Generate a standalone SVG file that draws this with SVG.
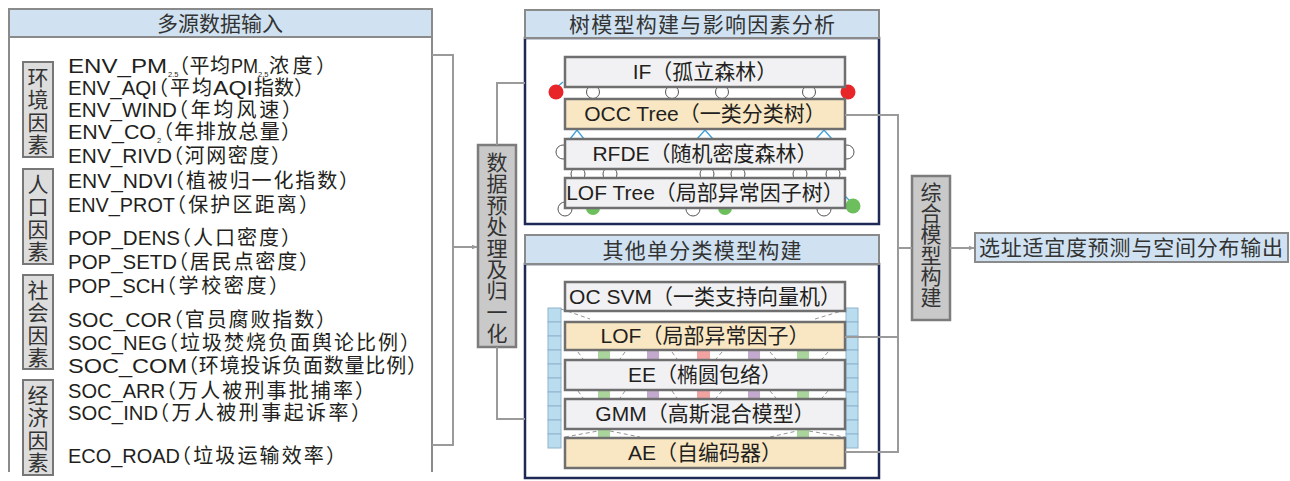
<svg xmlns="http://www.w3.org/2000/svg" width="1290" height="481" viewBox="0 0 1290 481">
<defs>
<style>
.hdr{fill:#d0e2f1;stroke:#8a8a8a;stroke-width:2}
.pan{fill:#fff;stroke:#1e2a55;stroke-width:2.5}
.box{fill:none;stroke:#8a8a8a;stroke-width:2}
.nd{fill:#f1f1f3;stroke:#6f6f6f;stroke-width:2.5}
.nb{fill:#f9e7c3;stroke:#6f6f6f;stroke-width:2.5}
.gb{fill:#c9c9c9;stroke:#7c7c7c;stroke-width:2.5}
.cat{fill:#dddddd;stroke:#777;stroke-width:2}
.t{font-family:"Liberation Sans","Noto Sans CJK SC",sans-serif;fill:#231f20;font-size:20px}
.c{font-family:"Noto Sans CJK SC",sans-serif;font-feature-settings:"halt"}
.h{font-family:"Noto Sans CJK SC",sans-serif;fill:#333;font-size:21px;text-anchor:middle}
.v{font-family:"Noto Sans CJK SC",sans-serif;fill:#333;font-size:21px;writing-mode:vertical-rl}
.n{font-family:"Liberation Sans","Noto Sans CJK SC",sans-serif;fill:#231f20;font-size:21px;text-anchor:middle}
.sub{font-family:"Liberation Sans",sans-serif;font-size:7.5px}
.conn{fill:none;stroke:#9a9a9a;stroke-width:2}
.wc{fill:#fff;stroke:#555;stroke-width:1}
.bl{fill:none;stroke:#3aa0dc;stroke-width:1.3}
.cell{fill:#b9dcef;stroke:#8fb4cc;stroke-width:1}
.dl{fill:none;stroke:#777;stroke-width:0.8;stroke-dasharray:4 3}
</style>
<marker id="arr" viewBox="0 0 10 10" refX="9" refY="5" markerWidth="6" markerHeight="6" orient="auto" markerUnits="userSpaceOnUse">
<path d="M0,1 L10,5 L0,9 z" fill="#9a9a9a"/>
</marker>
</defs>
<rect width="1290" height="481" fill="#fff"/>

<g id="input">
<path class="box" d="M9,472 V37 H432 V472"/>
<rect class="hdr" x="9" y="9" width="423" height="28"/>
<text class="h" x="220" y="31">多源数据输入</text>
<g id="cat-env"><rect class="cat" x="23" y="62" width="30" height="95"/>
<text class="v" x="38" y="66.5" letter-spacing="1.5">环境因素</text></g>
<g id="cat-pop"><rect class="cat" x="23" y="169" width="30" height="95"/>
<text class="v" x="38" y="173.5" letter-spacing="1.5">人口因素</text></g>
<g id="cat-soc"><rect class="cat" x="23" y="275" width="30" height="94"/>
<text class="v" x="38" y="279.5" letter-spacing="1.5">社会因素</text></g>
<g id="cat-eco"><rect class="cat" x="23" y="380" width="30" height="95"/>
<text class="v" x="38" y="384.5" letter-spacing="1.5">经济因素</text></g>

<text class="t" y="73"><tspan x="68" textLength="99" lengthAdjust="spacingAndGlyphs">ENV_PM</tspan><tspan class="sub" x="168" y="77">2.5</tspan><tspan class="c" x="179" y="73" textLength="51" lengthAdjust="spacing">（平均</tspan><tspan x="231" textLength="27" lengthAdjust="spacingAndGlyphs">PM</tspan><tspan class="sub" x="258" y="77">2.5</tspan><tspan class="c" x="269" y="73" textLength="57" lengthAdjust="spacing">浓度）</tspan></text>

<text class="t" y="95"><tspan x="68" textLength="89" lengthAdjust="spacingAndGlyphs">ENV_AQI</tspan><tspan class="c" x="158" textLength="54" lengthAdjust="spacing">（平均</tspan><tspan x="213" textLength="40" lengthAdjust="spacingAndGlyphs">AQI</tspan><tspan class="c" x="254" textLength="50" lengthAdjust="spacing">指数）</tspan></text>

<text class="t" y="117"><tspan x="68" textLength="109" lengthAdjust="spacingAndGlyphs">ENV_WIND</tspan><tspan class="c" x="178" textLength="114" lengthAdjust="spacing">（年均风速）</tspan></text>

<text class="t" y="139"><tspan x="68" textLength="88" lengthAdjust="spacingAndGlyphs">ENV_CO</tspan><tspan class="sub" x="157" y="143" font-size="9">2</tspan><tspan class="c" x="163" y="139" textLength="128" lengthAdjust="spacing">（年排放总量）</tspan></text>

<text class="t" y="163"><tspan x="68" textLength="104" lengthAdjust="spacingAndGlyphs">ENV_RIVD</tspan><tspan class="c" x="173" textLength="108" lengthAdjust="spacing">（河网密度）</tspan></text>

<text class="t" y="188"><tspan x="68" textLength="105" lengthAdjust="spacingAndGlyphs">ENV_NDVI</tspan><tspan class="c" x="174" textLength="175" lengthAdjust="spacing">（植被归一化指数）</tspan></text>

<text class="t" y="212"><tspan x="68" textLength="107" lengthAdjust="spacingAndGlyphs">ENV_PROT</tspan><tspan class="c" x="176" textLength="133" lengthAdjust="spacing">（保护区距离）</tspan></text>

<text class="t" y="245"><tspan x="68" textLength="112" lengthAdjust="spacingAndGlyphs">POP_DENS</tspan><tspan class="c" x="181" textLength="110" lengthAdjust="spacing">（人口密度）</tspan></text>

<text class="t" y="269"><tspan x="68" textLength="109" lengthAdjust="spacingAndGlyphs">POP_SETD</tspan><tspan class="c" x="178" textLength="131" lengthAdjust="spacing">（居民点密度）</tspan></text>

<text class="t" y="293"><tspan x="68" textLength="97" lengthAdjust="spacingAndGlyphs">POP_SCH</tspan><tspan class="c" x="166" textLength="113" lengthAdjust="spacing">（学校密度）</tspan></text>

<text class="t" y="327"><tspan x="68" textLength="104" lengthAdjust="spacingAndGlyphs">SOC_COR</tspan><tspan class="c" x="173" textLength="153" lengthAdjust="spacing">（官员腐败指数）</tspan></text>

<text class="t" y="350"><tspan x="68" textLength="99" lengthAdjust="spacingAndGlyphs">SOC_NEG</tspan><tspan class="c" x="168" textLength="242" lengthAdjust="spacing">（垃圾焚烧负面舆论比例）</tspan></text>

<text class="t" y="373"><tspan x="68" textLength="119" lengthAdjust="spacingAndGlyphs">SOC_COM</tspan><tspan class="c" x="188" textLength="229" lengthAdjust="spacing">（环境投诉负面数量比例）</tspan></text>

<text class="t" y="398"><tspan x="68" textLength="97" lengthAdjust="spacingAndGlyphs">SOC_ARR</tspan><tspan class="c" x="166" textLength="199" lengthAdjust="spacing">（万人被刑事批捕率）</tspan></text>

<text class="t" y="420"><tspan x="68" textLength="90" lengthAdjust="spacingAndGlyphs">SOC_IND</tspan><tspan class="c" x="159" textLength="202" lengthAdjust="spacing">（万人被刑事起诉率）</tspan></text>

<text class="t" y="463"><tspan x="68" textLength="112" lengthAdjust="spacingAndGlyphs">ECO_ROAD</tspan><tspan class="c" x="181" textLength="155" lengthAdjust="spacing">（垃圾运输效率）</tspan></text>
</g>

<g id="preprocess">
<rect class="gb" x="478" y="145" width="38" height="202"/>
<text class="v" x="497" y="151.5" letter-spacing="0.4">数据预处理及归一化</text>
</g>

<g id="tree-panel">
<rect class="pan" x="525" y="38" width="354" height="186"/>
<rect class="hdr" x="525" y="10" width="354" height="28"/>
<text class="h" x="702" y="32" font-size="22" textLength="266" lengthAdjust="spacing">树模型构建与影响因素分析</text>
<g id="tree-deco">
<path class="bl" d="M556,88 L563,82 M570,139 L577,130 L584,139 M697,139 L705,130 L713,139 M816,139 L824,130 L832,139 M845,196 L852,203"/>
<circle class="wc" cx="593" cy="92" r="6.5"/><circle class="wc" cx="672" cy="92" r="6.5"/>
<circle class="wc" cx="722" cy="92" r="6.5"/><circle class="wc" cx="809" cy="92" r="6.5"/>
<circle class="wc" cx="563" cy="152" r="7"/><circle class="wc" cx="847" cy="152" r="7"/>
<circle class="wc" cx="578" cy="174" r="7"/><circle class="wc" cx="610" cy="174" r="7"/>
<circle class="wc" cx="707" cy="174" r="7"/><circle class="wc" cx="738" cy="174" r="7"/>
<circle class="wc" cx="800" cy="174" r="7"/><circle class="wc" cx="833" cy="174" r="7"/>
<circle class="wc" cx="565" cy="209" r="7"/><circle class="wc" cx="693" cy="209" r="7"/><circle class="wc" cx="824" cy="209" r="7"/>
<circle cx="593" cy="208" r="7" fill="#6cbf5c"/><circle cx="725" cy="208" r="7" fill="#6cbf5c"/>
<circle cx="853" cy="206" r="7.5" fill="#6cbf5c"/>
<circle cx="556" cy="92" r="7.5" fill="#e8262a"/><circle cx="848" cy="92" r="7.5" fill="#e8262a"/>
</g>
<g id="if"><rect class="nd" x="565" y="57" width="280" height="30"/><text class="n" x="705" y="79">IF（孤立森林）</text></g>
<g id="occ"><rect class="nb" x="565" y="99" width="280" height="30"/><text class="n" x="705" y="121">OCC Tree（一类分类树）</text></g>
<g id="rfde"><rect class="nd" x="565" y="139" width="280" height="30"/><text class="n" x="705" y="161">RFDE（随机密度森林）</text></g>
<g id="loftree"><rect class="nd" x="565" y="178" width="280" height="30"/><text class="n" x="705" y="200">LOF Tree（局部异常因子树）</text></g>
</g>

<g id="other-panel">
<rect class="pan" x="525" y="264" width="354" height="214"/>
<rect class="hdr" x="525" y="235" width="354" height="29"/>
<text class="h" x="702" y="258" textLength="199" lengthAdjust="spacing">其他单分类模型构建</text>
<g id="other-deco">
<rect class="cell" x="548" y="308" width="13" height="14"/><rect class="cell" x="548" y="322" width="13" height="14"/>
<rect class="cell" x="548" y="336" width="13" height="14"/><rect class="cell" x="548" y="350" width="13" height="14"/>
<rect class="cell" x="548" y="364" width="13" height="14"/><rect class="cell" x="548" y="378" width="13" height="14"/>
<rect class="cell" x="548" y="392" width="13" height="14"/><rect class="cell" x="548" y="406" width="13" height="14"/>
<rect class="cell" x="548" y="420" width="13" height="14"/><rect class="cell" x="548" y="434" width="13" height="14"/>
<rect class="cell" x="846" y="308" width="12" height="14"/><rect class="cell" x="846" y="322" width="12" height="14"/>
<rect class="cell" x="846" y="336" width="12" height="14"/><rect class="cell" x="846" y="350" width="12" height="14"/>
<rect class="cell" x="846" y="364" width="12" height="14"/><rect class="cell" x="846" y="378" width="12" height="14"/>
<rect class="cell" x="846" y="392" width="12" height="14"/><rect class="cell" x="846" y="406" width="12" height="14"/>
<rect class="cell" x="846" y="420" width="12" height="14"/><rect class="cell" x="846" y="434" width="12" height="14"/>
<rect x="598" y="350" width="12" height="10" fill="#a9d49b"/><rect x="647" y="350" width="12" height="10" fill="#c3a9cd"/>
<rect x="697" y="350" width="13" height="10" fill="#f1a3a1"/><rect x="748" y="350" width="12" height="10" fill="#c3a9cd"/>
<rect x="797" y="350" width="12" height="10" fill="#a9d49b"/>
<rect x="598" y="390" width="12" height="9" fill="#a9d49b"/><rect x="647" y="390" width="12" height="9" fill="#c3a9cd"/>
<rect x="697" y="390" width="13" height="9" fill="#f1a3a1"/><rect x="748" y="390" width="12" height="9" fill="#c3a9cd"/>
<rect x="797" y="390" width="12" height="9" fill="#a9d49b"/>
<rect x="598" y="429" width="12" height="8" fill="#a9d49b"/><rect x="797" y="429" width="12" height="8" fill="#a9d49b"/>
<path class="dl" d="M561,309 L590,319 M815,319 L845,310 M578,352 L583,359 M625,352 L620,359 M672,352 L677,359 M722,352 L716,359 M770,352 L776,359 M828,352 L822,359 M578,391 L583,398 M625,391 L620,398 M672,391 L677,398 M722,391 L716,398 M770,391 L776,398 M828,391 L822,398 M565,437 L598,431 M610,431 L640,437 M770,437 L797,431 M809,431 L845,437"/>
</g>
<g id="ocsvm"><rect class="nd" x="565" y="282" width="280" height="29"/><text class="n" x="705" y="304">OC SVM（一类支持向量机）</text></g>
<g id="lof"><rect class="nb" x="565" y="322" width="280" height="28"/><text class="n" x="705" y="343">LOF（局部异常因子）</text></g>
<g id="ee"><rect class="nd" x="565" y="360" width="280" height="30"/><text class="n" x="705" y="382">EE（椭圆包络）</text></g>
<g id="gmm"><rect class="nd" x="565" y="399" width="280" height="30"/><text class="n" x="705" y="421">GMM（高斯混合模型）</text></g>
<g id="ae"><rect class="nb" x="565" y="438" width="280" height="30"/><text class="n" x="705" y="460">AE（自编码器）</text></g>
</g>

<g id="ensemble">
<rect class="gb" x="912" y="176" width="38" height="144"/>
<text class="v" x="931" y="182" font-size="22">综合模型构建</text>
</g>

<g id="output">
<rect class="hdr" x="975" y="233" width="313" height="29" stroke="#7c7c7c" stroke-width="2.5"/>
<text class="h" x="1131" y="255" textLength="304" lengthAdjust="spacing">选址适宜度预测与空间分布输出</text>
</g>

<g id="connectors">
<path class="conn" d="M432,55 H453 V445 H432"/>
<path class="conn" d="M453,247 H477" marker-end="url(#arr)"/>
<path class="conn" d="M497,145 V83 H525"/>
<path class="conn" d="M497,347 V419 H525"/>
<path class="conn" d="M845,115 H898 V452 H845"/>
<path class="conn" d="M845,337 H898"/>
<path class="conn" d="M898,248 H912"/>
<path class="conn" d="M950,248 H974" marker-end="url(#arr)"/>
</g>
</svg>
